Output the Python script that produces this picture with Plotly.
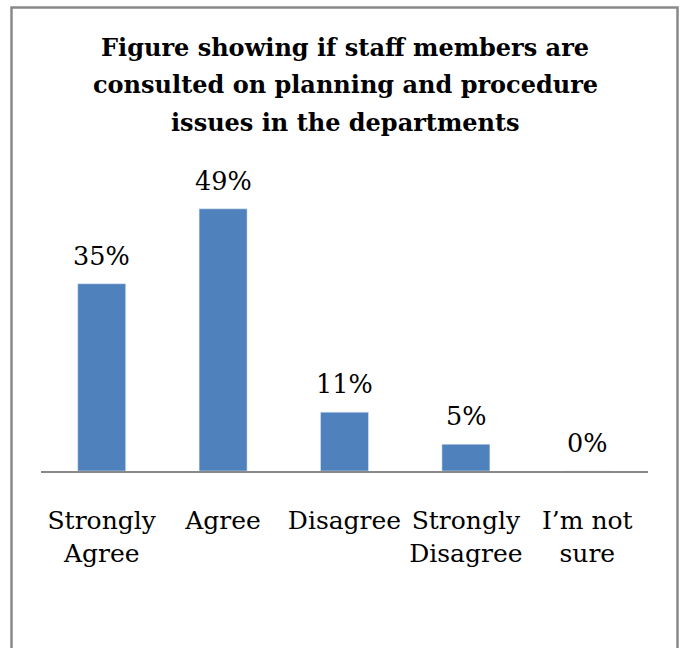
import plotly.graph_objects as go

categories = ["Strongly<br>Agree", "Agree", "Disagree", "Strongly<br>Disagree", "I\u2019m not<br>sure"]
values = [35, 49, 11, 5, 0]
labels = ["35%", "49%", "11%", "5%", "0%"]
title_lines = ["Figure showing if staff members are",
               "consulted on planning and procedure",
               "issues in the departments"]

W, H = 681, 648
ml, mr, mt, mb = 41, 33, 150, 177
ymax = 60
SERIF = "DejaVu Serif"

fig = go.Figure()
fig.add_trace(go.Bar(x=categories, y=values, marker_color="#4F81BD", width=0.395,
                     hoverinfo="skip"))

for c, v, t in zip(categories, values, labels):
    fig.add_annotation(x=c, y=v, text=t, showarrow=False, yanchor="bottom",
                       yshift=11, font=dict(family=SERIF, size=25.5, color="#000"))

pw = W - ml - mr
ph = H - mt - mb

def py(p):
    return (H - mb - p) / ph

def px(p):
    return (p - ml) / pw

# title lines
for i, line in enumerate(title_lines):
    fig.add_annotation(xref="paper", yref="paper", x=px(345), y=py(47 + 37.5 * i),
                       xanchor="center", yanchor="middle", showarrow=False,
                       text="<b>" + line + "</b>",
                       font=dict(family=SERIF, size=24, color="#000"))

fig.add_shape(type="rect", xref="paper", yref="paper", x0=px(11.5), x1=px(677.5),
              y0=-1.0, y1=py(7.5),
              line=dict(color="#898989", width=2.5), fillcolor="rgba(0,0,0,0)", layer="above")

fig.update_layout(
    width=W, height=H,
    margin=dict(l=ml, r=mr, t=mt, b=mb),
    paper_bgcolor="white", plot_bgcolor="white",
    showlegend=False,
    xaxis=dict(showline=True, linecolor="#898989", linewidth=2, showgrid=False,
               ticks="outside", ticklen=26, tickcolor="rgba(0,0,0,0)",
               tickfont=dict(family=SERIF, size=25, color="#000"), fixedrange=True),
    yaxis=dict(range=[0, ymax], visible=False, showgrid=False, zeroline=False, fixedrange=True),
    bargap=0.6,
)

fig.write_html("out.html")
